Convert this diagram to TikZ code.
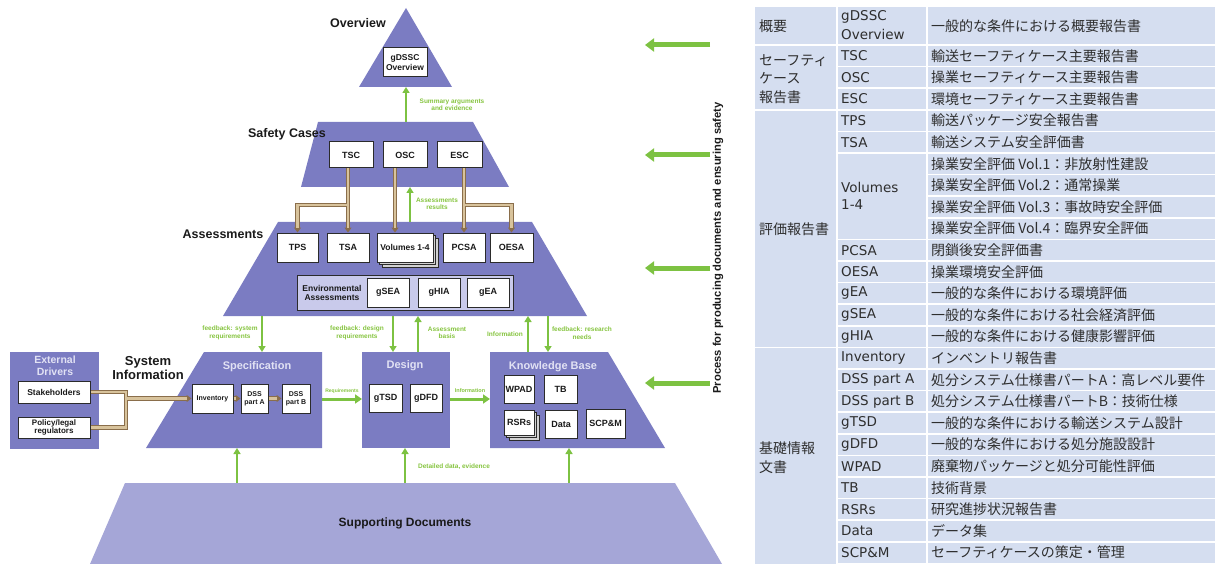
\documentclass[tikz,border=0pt]{standalone}
\usepackage{fontspec}
\setmainfont{Liberation Sans}
\newfontfamily\jpfont{Noto Sans CJK JP}
\newfontfamily\latfont{DejaVu Sans}
\usetikzlibrary{arrows.meta,calc,shadows}
\definecolor{pyr}{HTML}{7B7CC2}
\definecolor{pyrlight}{HTML}{A5A6D7}
\definecolor{envfill}{HTML}{C9CAEB}
\definecolor{grn}{HTML}{7DC242}
\definecolor{grntxt}{HTML}{86C440}
\definecolor{brout}{HTML}{8A6E4B}
\definecolor{brin}{HTML}{D8C39C}
\definecolor{hdrtxt}{HTML}{E2E2F4}
\definecolor{tbl}{HTML}{D5DEF0}
\definecolor{tbltxt}{HTML}{2E2E2E}
\definecolor{bx}{HTML}{2B2B2B}
\definecolor{ink}{HTML}{1A1A1A}
\newcommand\brpaths[2]{%
  \draw[#1,#2] (TSA.north |- TSC.south) -- (TSA.north);
  \draw[#1,#2] (TSA.north |- jy) -| (TPS.north);
  \draw[#1,#2] (OSC.south -| osx) -- (Volumes.north -| osx);
  \draw[#1,#2] (PCSA.north |- ESC.south) -- (PCSA.north);
  \draw[#1,#2] (PCSA.north |- jy) -| (OESA.north);
  \draw[#1,#2] (Stake.east) -| (Inventory.west -| jx) -- (Inventory.west);
  \draw[#1] (Policy.east) -| (Inventory.west -| jx);
  \draw[#1,#2] (Inventory.east) -- (DSSA.west);
  \draw[#1,#2] (DSSA.east) -- (DSSB.west);
}
\begin{document}
\begin{tikzpicture}[x=1pt,y=-1pt,
  box/.style={draw=bx, line width=1pt, fill=white, font=\bfseries\fontsize{9}{10}\selectfont, text=ink, align=center, inner sep=0pt},
  smallbox/.style={box, font=\bfseries\fontsize{7}{8}\selectfont},
  ttl/.style={font=\bfseries\fontsize{12.5}{14}\selectfont, text=ink, align=center},
  subttl/.style={font=\bfseries\fontsize{11}{12.5}\selectfont, text=hdrtxt, align=center},
  glab/.style={font=\bfseries\fontsize{6.5}{7.5}\selectfont, text=grntxt, align=center},
  garrow/.style={draw=grn, line width=1.8pt, -{Triangle[width=7pt,length=6pt]}},
  harrow/.style={draw=grn, line width=3pt, -{Triangle[width=9pt,length=7pt]}},
  bigarrow/.style={draw=grn, line width=5pt, -{Triangle[width=13pt,length=9pt]}},
  brouter/.style={draw=brout, line width=4.4pt},
  brinner/.style={draw=brin, line width=2.4pt},
  brtip/.style={-{Triangle[width=7pt,length=5pt]}},
  brshort/.style={shorten >=4.5pt},
  stack/.style={double copy shadow={shadow xshift=2.5pt, shadow yshift=-2.5pt, fill=gray!35, draw=bx}},
  tcell/.style={fill=tbl, draw=white, line width=1.6pt},
  ttext/.style={font=\jpfont\fontsize{14}{18}\selectfont, text=tbltxt, anchor=west, align=left, inner sep=0pt},
  ltext/.style={ttext, font=\latfont\fontsize{13.5}{18}\selectfont},
]
\useasboundingbox (0,0) rectangle (1215,564);

% ---------- pyramid layers ----------
\fill[pyr] (406,8) -- (452,87) -- (359,87) -- cycle;
\fill[pyr] (318,122) -- (473,122) -- (509,187) -- (301,187) -- cycle;
\fill[pyr] (278,222) -- (532,222) -- (587,316) -- (223,316) -- cycle;
\fill[pyr] (10,352) rectangle (99,449);
\fill[pyr] (204,352) -- (322,352) -- (322,448) -- (146,448) -- cycle;
\fill[pyr] (362,352) rectangle (450,448);
\fill[pyr] (490,352) -- (608,352) -- (665,448) -- (490,448) -- cycle;
\fill[pyrlight] (125,483) -- (675,483) -- (722,564) -- (90,564) -- cycle;

% ---------- titles ----------
\node[ttl] (tOverview) at (358,23) {Overview};
\node[ttl] (tSafety) at (287,134) {Safety Cases};
\node[ttl] (tAssess) at (223,234) {Assessments};
\node[ttl, font=\bfseries\fontsize{13}{14}\selectfont] (tSysInfo) at (148,368) {System\\Information};
\node[ttl, font=\bfseries\fontsize{12}{14}\selectfont] (tSupport) at (405,523) {Supporting Documents};
\node[subttl] (tSpec) at (257,367) {Specification};
\node[subttl] (tDesign) at (405,366) {Design};
\node[subttl] (tKB) at (553,367) {Knowledge Base};
\node[subttl, font=\bfseries\fontsize{10.5}{12}\selectfont] (tExt) at (55,366) {External\\Drivers};

% ---------- coordinates ----------
\coordinate (jy) at (0,205);
\coordinate (osx) at (395,0);
\coordinate (jx) at (126,0);

% ---------- boxes ----------
\node[box, minimum width=44pt, minimum height=29pt, font=\bfseries\fontsize{8.5}{9.5}\selectfont] (gDSSC) at (405,62.5) {gDSSC\\Overview};
\node[box, minimum width=44pt, minimum height=26pt] (TSC) at (351,155) {TSC};
\node[box, minimum width=44pt, minimum height=26pt] (OSC) at (405,155) {OSC};
\node[box, minimum width=45pt, minimum height=26pt] (ESC) at (459.5,155) {ESC};

\node[box, minimum width=41pt, minimum height=29pt] (TPS) at (297.5,247.5) {TPS};
\node[box, minimum width=42pt, minimum height=29pt] (TSA) at (348,247.5) {TSA};
\node[box, stack, minimum width=56pt, minimum height=29pt, font=\bfseries\fontsize{8.5}{9.5}\selectfont] (Volumes) at (405,247.5) {Volumes 1-4};
\node[box, minimum width=42pt, minimum height=29pt] (PCSA) at (464,247.5) {PCSA};
\node[box, minimum width=43pt, minimum height=29pt] (OESA) at (511.5,247.5) {OESA};

\node[draw=bx, line width=1pt, fill=envfill, minimum width=216pt, minimum height=35pt, inner sep=0pt] (env) at (405,292.5) {};
\node[font=\bfseries\fontsize{8.5}{9.5}\selectfont, text=ink, align=center] (envtxt) at (332,293) {Environmental\\Assessments};
\node[box, minimum width=42pt, minimum height=29pt] (gSEA) at (388,292.5) {gSEA};
\node[box, minimum width=42pt, minimum height=29pt] (gHIA) at (439,292.5) {gHIA};
\node[box, minimum width=42pt, minimum height=29pt] (gEA) at (488,292.5) {gEA};

\node[box, minimum width=72pt, minimum height=22pt, font=\bfseries\fontsize{8.5}{9.5}\selectfont] (Stake) at (54,392) {Stakeholders};
\node[box, minimum width=72pt, minimum height=21pt, font=\bfseries\fontsize{8}{8.5}\selectfont] (Policy) at (54,427.5) {Policy/legal\\regulators};

\node[smallbox, minimum width=41pt, minimum height=29pt] (Inventory) at (212.5,398.5) {Inventory};
\node[smallbox, minimum width=27pt, minimum height=29pt] (DSSA) at (254.5,398.5) {DSS\\part A};
\node[smallbox, minimum width=28pt, minimum height=29pt] (DSSB) at (296,398.5) {DSS\\part B};

\node[box, minimum width=33pt, minimum height=28pt] (gTSD) at (385.5,398) {gTSD};
\node[box, minimum width=32pt, minimum height=28pt] (gDFD) at (426,398) {gDFD};

\node[box, minimum width=30pt, minimum height=28pt] (WPAD) at (519,389) {WPAD};
\node[box, minimum width=33pt, minimum height=28pt] (TB) at (560.5,389) {TB};
\node[box, stack, minimum width=30pt, minimum height=25pt] (RSRs) at (519,422.5) {RSRs};
\node[box, minimum width=32pt, minimum height=28pt] (Data) at (561,424) {Data};
\node[box, minimum width=39pt, minimum height=29pt] (SCPM) at (605.5,423.5) {SCP\&M};

% ---------- brown document links ----------
\brpaths{brouter}{brtip}
\brpaths{brinner}{brshort}

% ---------- green arrows ----------
\coordinate (ovB) at (406,87);
\coordinate (scT) at (406,122);
\coordinate (scB) at (410,187);
\coordinate (asT) at (410,222);
\draw[garrow] (scT) -- (ovB);
\node[glab] (lSum) at (452,105) {Summary arguments\\and evidence};
\draw[garrow] (asT) -- (scB);
\node[glab] (lAres) at (437,204) {Assessments\\results};

\coordinate (a1) at (262,316); \coordinate (b1) at (262,352);
\coordinate (a2) at (393,316); \coordinate (b2) at (393,352);
\coordinate (a3) at (418,316); \coordinate (b3) at (418,352);
\coordinate (a4) at (528,316); \coordinate (b4) at (528,352);
\coordinate (a5) at (548,316); \coordinate (b5) at (548,352);
\draw[garrow] (a1) -- (b1);
\draw[garrow] (a2) -- (b2);
\draw[garrow] (b3) -- (a3);
\draw[garrow] (b4) -- (a4);
\draw[garrow] (a5) -- (b5);
\node[glab] (lfs) at (230,333) {feedback: system\\requirements};
\node[glab] (lfd) at (357,333) {feedback: design\\requirements};
\node[glab] (lab) at (447,333) {Assessment\\basis};
\node[glab] (linf) at (505,334) {Information};
\node[glab] (lfr) at (582,333) {feedback: research\\needs};

\coordinate (spR) at (322,399); \coordinate (deL) at (362,399);
\coordinate (deR) at (450,399); \coordinate (kbL) at (490,399);
\draw[harrow] (spR) -- (deL);
\draw[harrow] (deR) -- (kbL);
\node[glab, font=\bfseries\fontsize{5}{6}\selectfont] (lreq) at (342,391) {Requirements};
\node[glab, font=\bfseries\fontsize{5.5}{6}\selectfont] (linf2) at (470,391) {Information};

\coordinate (sd1) at (237,483); \coordinate (sp1) at (237,448);
\coordinate (sd2) at (405,483); \coordinate (sp2) at (405,448);
\coordinate (sd3) at (569,483); \coordinate (sp3) at (569,448);
\draw[garrow] (sd1) -- (sp1);
\draw[garrow] (sd2) -- (sp2);
\draw[garrow] (sd3) -- (sp3);
\node[glab] (ldet) at (454,467) {Detailed data, evidence};

% ---------- process arrows ----------
\foreach \yy [count=\k] in {45,155,268,383}{
  \coordinate (ps\k) at (710,\yy);
  \coordinate (pe\k) at (645,\yy);
  \draw[bigarrow] (ps\k) -- (pe\k);
}
\node[ttl, font=\bfseries\fontsize{11.2}{12}\selectfont, rotate=90] (tProc) at (718,248) {Process for producing documents and ensuring safety};

% ---------- table ----------
\def\cA{754}\def\cB{837}\def\cC{927}\def\cD{1218}
\draw[tcell] (\cA,6) rectangle (\cB,45);
\draw[tcell] (\cA,45) rectangle (\cB,109.8);
\draw[tcell] (\cA,109.8) rectangle (\cB,347.4);
\draw[tcell] (\cA,347.4) rectangle (\cB,566);
\draw[tcell] (\cB,6) rectangle (\cC,45);
\draw[tcell] (\cC,6) rectangle (\cD,45);
\foreach \i in {0,...,23}{
  \pgfmathsetmacro\ta{45+21.6*\i}
  \pgfmathsetmacro\tb{45+21.6*(\i+1)}
  \draw[tcell] (\cC,\ta) rectangle (\cD,\tb);
}
\foreach \i in {0,1,2,3,4,9,10,11,12,13,14,15,16,17,18,19,20,21,22,23}{
  \pgfmathsetmacro\ta{45+21.6*\i}
  \pgfmathsetmacro\tb{45+21.6*(\i+1)}
  \draw[tcell] (\cB,\ta) rectangle (\cC,\tb);
}
\draw[tcell] (\cB,153) rectangle (\cC,239.4);

\node[ttext] (g0) at (759,26) {概要};
\node[ttext, font=\jpfont\fontsize{14}{18.5}\selectfont] (g1) at (759,79) {セーフティ\\ケース\\報告書};
\node[ttext] (g2) at (759,229) {評価報告書};
\node[ttext, font=\jpfont\fontsize{14}{19}\selectfont] (g3) at (759,458) {基礎情報\\文書};
\node[ltext, font=\latfont\fontsize{13.5}{19}\selectfont] (b0) at (841,25.5) {gDSSC\\Overview};
\node[ttext] (c0) at (931,26) {一般的な条件における概要報告書};
\node[ltext, font=\latfont\fontsize{13.5}{17}\selectfont] (bvol) at (841,196) {Volumes\\1-4};

\foreach \i/\t in {0/TSC,1/OSC,2/ESC,3/TPS,4/TSA,9/PCSA,10/OESA,11/gEA,12/gSEA,13/gHIA,14/Inventory,15/DSS part A,16/DSS part B,17/gTSD,18/gDFD,19/WPAD,20/TB,21/RSRs,22/Data,23/SCP\&M}{
  \pgfmathsetmacro\tm{45+21.6*\i+10.8}
  \node[ltext] (rb\i) at (841,\tm) {\t};
}
\foreach \i/\t in {0/輸送セーフティケース主要報告書,1/操業セーフティケース主要報告書,2/環境セーフティケース主要報告書,3/輸送パッケージ安全報告書,4/輸送システム安全評価書,5/操業安全評価 Vol.1：非放射性建設,6/操業安全評価 Vol.2：通常操業,7/操業安全評価 Vol.3：事故時安全評価,8/操業安全評価 Vol.4：臨界安全評価,9/閉鎖後安全評価書,10/操業環境安全評価,11/一般的な条件における環境評価,12/一般的な条件における社会経済評価,13/一般的な条件における健康影響評価,14/インベントリ報告書,15/処分システム仕様書パートA：高レベル要件,16/処分システム仕様書パートB：技術仕様,17/一般的な条件における輸送システム設計,18/一般的な条件における処分施設設計,19/廃棄物パッケージと処分可能性評価,20/技術背景,21/研究進捗状況報告書,22/データ集,23/セーフティケースの策定・管理}{
  \pgfmathsetmacro\tm{45+21.6*\i+10.8}
  \node[ttext] (rc\i) at (931,\tm) {\t};
}
\end{tikzpicture}
\end{document}
